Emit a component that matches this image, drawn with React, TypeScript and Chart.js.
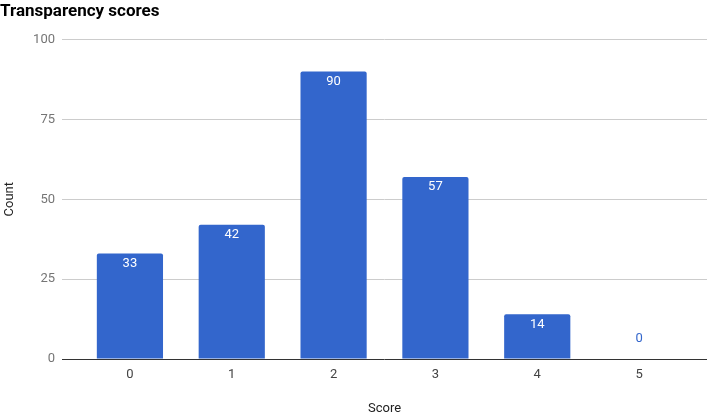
import React, { useEffect, useRef } from "react";
import { Chart, registerables } from "chart.js";

Chart.register(...registerables);

const categories = ["0", "1", "2", "3", "4", "5"];
const counts = [33, 42, 90, 57, 14, 0];
const yTicks = [0, 25, 50, 75, 100];

const BLUE = "#3366cc";
const FONT = "Roboto, 'Noto Sans', sans-serif";

const valueLabels = {
  id: "valueLabels",
  afterDatasetsDraw(chart: any) {
    const ctx = chart.ctx;
    const meta = chart.getDatasetMeta(0);
    ctx.save();
    ctx.font = `13px ${FONT}`;
    ctx.textAlign = "center";
    ctx.textBaseline = "middle";
    meta.data.forEach((bar: any, i: number) => {
      const v = counts[i];
      const h = bar.base - bar.y;
      if (h > 22) {
        ctx.fillStyle = "#ffffff";
        ctx.fillText(String(v), bar.x, bar.y + 10);
      } else {
        ctx.fillStyle = BLUE;
        ctx.fillText(String(v), bar.x, bar.y - 20);
      }
    });
    ctx.restore();
  },
};

export default function App() {
  const ref = useRef<HTMLCanvasElement | null>(null);
  useEffect(() => {
    if (!ref.current) return;
    const chart = new Chart(ref.current, {
      type: "bar",
      data: {
        datasets: [
          {
            data: counts.map((c, i) => ({ x: i, y: c })),
            backgroundColor: BLUE,
            borderRadius: 2,
            borderSkipped: "start",
            barPercentage: 0.65,
            categoryPercentage: 1,
          },
        ],
      },
      options: {
        responsive: false,
        animation: false,
        layout: { padding: { left: 0, right: 1, top: 0, bottom: 0 } },
        plugins: {
          legend: { display: false },
          tooltip: { enabled: false },
          title: {
            display: true,
            text: "Transparency scores",
            align: "start",
            color: "#000000",
            font: { family: FONT, size: 17, weight: "bold" },
            padding: { top: 2, bottom: 17.1 },
          },
        },
        scales: {
          x: {
            type: "linear",
            offset: false,
            min: -0.667,
            max: 5.667,
            afterBuildTicks(scale: any) {
              scale.ticks = categories.map((_, i) => ({ value: i }));
            },
            afterFit(scale: any) {
              scale.height = 54;
            },
            grid: { display: false, drawTicks: false },
            border: { display: false },
            ticks: {
              padding: 8,
              color: "#444444",
              font: { family: FONT, size: 13 },
              callback: (v: any) => categories[Number(v)] ?? "",
            },
            title: {
              display: true,
              text: "Score",
              color: "#222222",
              font: { family: FONT, size: 13 },
              padding: { top: 0, bottom: -4 },
            },
          },
          y: {
            min: 0,
            max: 100,
            afterBuildTicks(scale: any) {
              scale.ticks = yTicks.map((v) => ({ value: v }));
            },
            afterFit(scale: any) {
              scale.width = 62;
            },
            grid: {
              drawTicks: false,
              color: (c: any) => (c.tick && c.tick.value === 0 ? "#333333" : "#cccccc"),
              lineWidth: 1,
            },
            border: { display: false },
            ticks: {
              padding: 7,
              color: "#757575",
              font: { family: FONT, size: 13 },
            },
            title: {
              display: true,
              text: "Count",
              color: "#222222",
              font: { family: FONT, size: 13 },
              padding: { top: 2, bottom: 0 },
            },
          },
        },
      },
      plugins: [valueLabels],
    });
    return () => chart.destroy();
  }, []);
  return (
    <div style={{ position: "absolute", left: 0, top: 0, width: 708, height: 413, background: "#fff" }}>
      <canvas ref={ref} width={708} height={413} />
    </div>
  );
}
